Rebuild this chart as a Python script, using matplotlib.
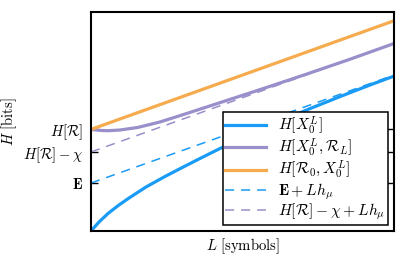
import matplotlib
matplotlib.use("Agg")
import matplotlib.pyplot as plt

plt.rcParams['mathtext.fontset'] = 'cm'
plt.rcParams['font.family'] = 'serif'
plt.rcParams['font.serif'] = ['DejaVu Serif']

# Read-off values (arbitrary bit units, L in arbitrary symbol units)
E_val = 2.19
HR_chi = 3.61
HR = 4.64
L_end = 10.0
ylim_top = 10.0

L_blue = [0, 0.264, 0.561, 0.891, 1.221, 1.815, 2.442, 2.937, 3.597, 4.257,
          5.248, 6.238, 7.228, 8.218, 9.208, 10]
H_X = [0, 0.411, 0.799, 1.155, 1.475, 2.009, 2.489, 2.845, 3.311, 3.767,
       4.411, 5.014, 5.589, 6.137, 6.667, 7.073]

L_purp = [0, 0.33, 0.56, 0.95, 1.55, 2.28, 3.1, 4.19, 5.5, 7.0, 8.5, 10]
H_XR = [4.64, 4.59, 4.58, 4.61, 4.73, 4.98, 5.34, 5.83, 6.42, 7.11, 7.82, 8.56]

L_line = [0, 10]
H_RX = [4.64, 9.60]
E_line = [2.19, 7.12]
HRchi_line = [3.61, 8.56]

blue = '#1a9bf5'
purple = '#9b8fcb'
orange = '#f5ab4e'

fig = plt.figure(figsize=(4.15, 2.57), dpi=100)
ax = fig.add_axes([91/415, 26/257, 303/415, 219/257])

ax.plot(L_blue, H_X, color=blue, lw=2.3, label=r'$H[X_0^L]$')
ax.plot(L_purp, H_XR, color=purple, lw=2.3, label=r'$H[X_0^L,\mathcal{R}_L]$')
ax.plot(L_line, H_RX, color=orange, lw=2.3, label=r'$H[\mathcal{R}_0,X_0^L]$')
ax.plot(L_line, E_line, color=blue, lw=1.1, ls=(0, (6, 4.5)), label=r'$\mathbf{E}+Lh_\mu$')
ax.plot(L_line, HRchi_line, color=purple, lw=1.1, ls=(0, (6, 4.5)), label=r'$H[\mathcal{R}]-\chi+Lh_\mu$')

ax.set_xlim(0, L_end)
ax.set_ylim(0, ylim_top)
ax.set_xticks([])
ax.set_yticks([E_val, HR_chi, HR])
ax.set_yticklabels([r'$\mathbf{E}$', r'$H[\mathcal{R}]-\chi$', r'$H[\mathcal{R}]$'], fontsize=10.6)
ax.tick_params(axis='y', direction='in', length=5, width=1, right=True, left=True, pad=5.5)
for s in ax.spines.values():
    s.set_linewidth(1.5)

ax.set_xlabel(r'$L\ [\mathrm{symbols}]$', fontsize=10.6, labelpad=4)
ax.set_ylabel(r'$H\ [\mathrm{bits}]$', fontsize=10.6, labelpad=3)

leg = ax.legend(loc='lower right', fontsize=11.2, frameon=True, fancybox=False,
                edgecolor='black', framealpha=1, handlelength=2.6,
                labelspacing=0.0, borderaxespad=0.4, borderpad=0.15, handletextpad=0.8)
leg.get_frame().set_linewidth(1.1)

fig.savefig('out.png', dpi=100)
